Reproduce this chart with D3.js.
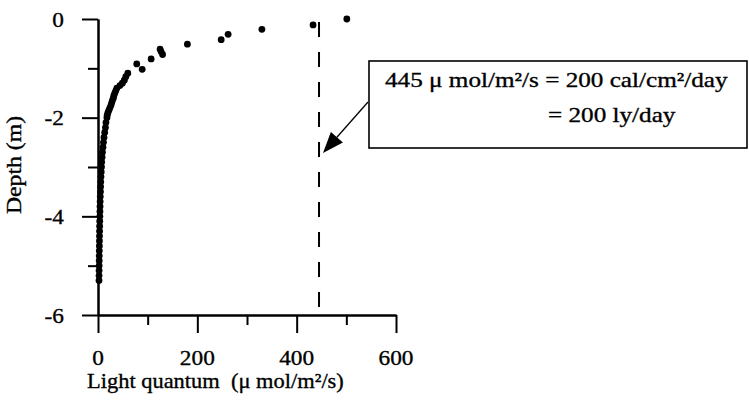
<!DOCTYPE html>
<html>
<head>
<meta charset="utf-8">
<script src="https://cdn.jsdelivr.net/npm/d3@7"></script>
<style>
  html, body { margin: 0; padding: 0; background: #fff; }
  svg { display: block; }
  text { font-family: "Liberation Serif", "Times New Roman", serif; fill: #000; stroke: #000; stroke-width: 0.35px; white-space: pre; }
</style>
</head>
<body>
<svg id="chart" width="749" height="410"></svg>
<script>
// Underwater light profile: photon flux vs depth
const lightQuantum = [
  501, 433, 330, 262, 248, 180, 125, 127, 130, 107, 78, 89,
  60, 56, 53, 49, 44, 38, 36, 34, 32, 31, 29, 27.5, 26, 24, 22, 20, 18.5, 18,
  16, 15, 13.5, 12, 11, 10, 9, 8.2, 7.5, 7,
  6.5, 6, 5.6, 5.2, 4.9, 4.6, 4.3, 4.1, 3.9, 3.7,
  3.5, 3.3, 3.2, 3.0, 2.9, 2.8, 2.6, 2.5, 2.4, 2.3, 2.2, 2.1, 2.0
];
const depthM = [
  0.00, -0.12, -0.21, -0.31, -0.42, -0.51, -0.61, -0.66, -0.72, -0.81, -0.91, -1.02,
  -1.10, -1.17, -1.24, -1.30, -1.35, -1.40, -1.45, -1.50, -1.55, -1.60, -1.65, -1.70, -1.75, -1.80, -1.85, -1.90, -1.95, -2.00,
  -2.10, -2.20, -2.30, -2.40, -2.50, -2.60, -2.70, -2.80, -2.90, -3.00,
  -3.10, -3.20, -3.30, -3.40, -3.50, -3.60, -3.70, -3.80, -3.90, -4.00,
  -4.10, -4.20, -4.30, -4.40, -4.50, -4.60, -4.70, -4.80, -4.90, -5.00, -5.10, -5.20, -5.30
];

const xMajorTicks = [0, 200, 400, 600];
const xMinorTicks = [100, 300, 500];
const yMajorTicks = [0, -2, -4, -6];
const yMinorTicks = [-1, -3, -5];

const referenceFlux = 445; // μmol/m²/s equivalent of 200 ly/day
const noteLine1 = "445 \u03bc mol/m\u00b2/s = 200 cal/cm\u00b2/day";
const noteLine2 = "= 200 ly/day";
const xTitle = "Light quantum  (\u03bc mol/m\u00b2/s)";
const yTitle = "Depth (m)";

const svg = d3.select("#chart");
svg.append("rect").attr("width", 749).attr("height", 410).attr("fill", "#fff");

const x = d3.scaleLinear().domain([0, 600]).range([98, 396]);
const y = d3.scaleLinear().domain([-6, 0]).range([315, 19]);

// text helper: stretched serif glyphs
function label(parent, px, py, str, anchor, size, sx, rot) {
  const g = parent.append("g")
    .attr("transform", `translate(${px},${py}) rotate(${rot || 0}) scale(${sx},1)`);
  g.append("text")
    .attr("text-anchor", anchor)
    .attr("font-size", size)
    .text(str);
  return g;
}

// axes
function styleAxis(g) {
  g.selectAll("path, line").attr("stroke", "#000").attr("stroke-width", 2);
  g.selectAll("text").remove();
}
svg.append("g").attr("transform", `translate(${x(0)},0)`)
  .call(d3.axisLeft(y).tickValues(yMajorTicks).tickSize(16).tickSizeOuter(0))
  .call(styleAxis);
svg.append("g").attr("transform", `translate(${x(0)},0)`)
  .call(d3.axisLeft(y).tickValues(yMinorTicks).tickSize(10).tickSizeOuter(0))
  .call(styleAxis);
svg.append("g").attr("transform", `translate(0,${y(-6)})`)
  .call(d3.axisBottom(x).tickValues(xMajorTicks).tickSize(18).tickSizeOuter(0))
  .call(styleAxis);
svg.append("g").attr("transform", `translate(0,${y(-6)})`)
  .call(d3.axisBottom(x).tickValues(xMinorTicks).tickSize(10).tickSizeOuter(0))
  .call(styleAxis);

// tick labels
yMajorTicks.forEach(v => label(svg, 64, y(v) + 7.5, String(v), "end", 22, 1.06));
xMajorTicks.forEach(v => label(svg, x(v), 365, String(v), "middle", 22, 1.06));

// axis titles
label(svg, 87, 388, xTitle, "start", 22, 1.02);
label(svg, 21, 165, yTitle, "middle", 22, 1.08, -90);

// reference line at 445
svg.append("line")
  .attr("x1", x(referenceFlux)).attr("x2", x(referenceFlux))
  .attr("y1", y(0) + 3).attr("y2", y(-6) - 8)
  .attr("stroke", "#000").attr("stroke-width", 2)
  .attr("stroke-dasharray", "15,15");

// data points
svg.append("g").selectAll("circle")
  .data(d3.range(lightQuantum.length))
  .join("circle")
  .attr("cx", i => x(lightQuantum[i]))
  .attr("cy", i => y(depthM[i]))
  .attr("r", 3.4)
  .attr("fill", "#000");

// annotation box
const box = { x0: 369, y0: 61, x1: 747, y1: 148 };
svg.append("rect")
  .attr("x", box.x0).attr("y", box.y0)
  .attr("width", box.x1 - box.x0).attr("height", box.y1 - box.y0)
  .attr("fill", "#fff").attr("stroke", "#000").attr("stroke-width", 1.6);
label(svg, 385, 87, noteLine1, "start", 22, 1.145);
label(svg, 548, 122, noteLine2, "start", 22, 1.145);

// arrow from box to the reference line
const start = [box.x0 - 1, 102];
const tip = [x(referenceFlux) + 4, 153];
const dx = tip[0] - start[0], dy = tip[1] - start[1];
const len = Math.hypot(dx, dy);
const ux = dx / len, uy = dy / len;
const headLen = 21, headHalf = 8;
const base = [tip[0] - headLen * ux, tip[1] - headLen * uy];
svg.append("line")
  .attr("x1", start[0]).attr("y1", start[1])
  .attr("x2", base[0]).attr("y2", base[1])
  .attr("stroke", "#000").attr("stroke-width", 1.3);
svg.append("path")
  .attr("d", d3.line()([
    tip,
    [base[0] - headHalf * uy, base[1] + headHalf * ux],
    [base[0] + headHalf * uy, base[1] - headHalf * ux]
  ]) + "Z")
  .attr("fill", "#000");
</script>
</body>
</html>
